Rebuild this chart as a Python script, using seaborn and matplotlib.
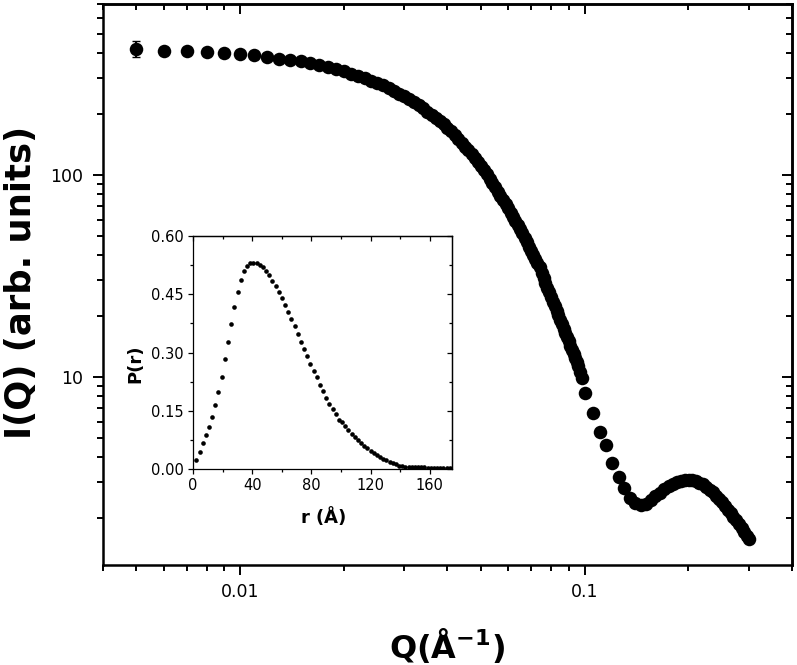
import numpy as np
import matplotlib
matplotlib.use('Agg')
import matplotlib.pyplot as plt
import seaborn as sns
from matplotlib.ticker import LogLocator, NullFormatter, MultipleLocator

# Scattering curve, low-Q part (Q in 1/A, intensity in arb. units)
q_low = [0.005, 0.006, 0.007, 0.008, 0.009, 0.010, 0.011, 0.012, 0.013, 0.014,
         0.015, 0.016, 0.017, 0.018, 0.019, 0.020, 0.021, 0.022, 0.023, 0.024,
         0.025, 0.026, 0.027, 0.028, 0.029, 0.030, 0.031, 0.032, 0.033, 0.034,
         0.035, 0.036, 0.037, 0.038, 0.039, 0.040, 0.041, 0.042, 0.043, 0.044,
         0.045, 0.046, 0.047, 0.048, 0.049, 0.050, 0.051, 0.052, 0.053, 0.054,
         0.055, 0.056, 0.057, 0.058, 0.059, 0.060, 0.061, 0.062, 0.063, 0.064,
         0.065, 0.066, 0.067, 0.068, 0.069, 0.070, 0.071, 0.072, 0.073, 0.074,
         0.075, 0.076, 0.077, 0.078, 0.079, 0.080, 0.081, 0.082, 0.083, 0.084,
         0.085, 0.086, 0.087, 0.088, 0.089, 0.090, 0.091, 0.092, 0.093, 0.094,
         0.095, 0.096, 0.097, 0.098]
i_low = [419, 411, 410, 405, 400, 396, 390, 383, 376, 370,
         364, 357, 348, 340, 332, 325, 316, 308, 300, 292,
         285, 277, 268, 260, 252, 244, 237, 230, 221, 213,
         205, 198, 191, 184, 178, 171, 164.5, 157, 150, 143.5,
         137.5, 132, 126.5, 121, 115.5, 110, 105, 100.4, 95.5, 91,
         86.5, 82.4, 78.6, 75, 71.7, 68.1, 64.8, 61.7, 58.8, 56.1,
         53.6, 51.2, 48.6, 46.2, 44.0, 41.9, 39.9, 38.1, 36.4, 34.8,
         32.7, 30.9, 29.2, 27.6, 26.2, 24.8, 23.5, 22.3, 21.2, 20.1,
         19.1, 18.2, 17.3, 16.5, 15.7, 14.95, 14.25, 13.6, 12.97, 12.38,
         11.82, 11.3, 10.6, 9.9]

# Scattering curve, high-Q part
q_high = [0.1005, 0.1055, 0.1105, 0.1155, 0.1205, 0.1255, 0.1305, 0.1355, 0.1405, 0.1455,
          0.1505, 0.1555, 0.1605, 0.1655, 0.1705, 0.1755, 0.1805, 0.1855, 0.1905, 0.1955,
          0.2005, 0.2055, 0.2105, 0.2155, 0.2205, 0.2255, 0.2305, 0.2355, 0.2405, 0.2455,
          0.2505, 0.2555, 0.2605, 0.2655, 0.2705, 0.2755, 0.2805, 0.2855, 0.2905, 0.2955,
          0.3005]
i_high = [8.3, 6.6, 5.3, 4.6, 3.75, 3.2, 2.8, 2.52, 2.37, 2.32,
          2.35, 2.44, 2.56, 2.66, 2.79, 2.89, 2.96, 3.02, 3.06, 3.08,
          3.09, 3.07, 3.03, 2.99, 2.93, 2.84, 2.76, 2.68, 2.58, 2.49,
          2.40, 2.30, 2.20, 2.11, 2.03, 1.95, 1.86, 1.78, 1.70, 1.63,
          1.57]

# Error of the first point
first_err = 38

# Pair distance distribution (inset)
r_vals = [2.2, 4.4, 6.5, 8.7, 10.8, 12.9, 15.1, 17.2, 19.4, 21.5,
          23.7, 25.8, 27.9, 30.1, 32.2, 34.4, 36.5, 38.6, 40.8, 42.9,
          45.1, 47.2, 49.3, 51.5, 53.6, 55.8, 57.9, 60.0, 62.2, 64.3,
          66.5, 68.6, 70.7, 72.9, 75.0, 77.2, 79.3, 81.4, 83.6, 85.7,
          87.9, 90.0, 92.1, 94.3, 96.4, 98.6, 100.7, 102.8, 105.0, 107.1,
          109.3, 111.4, 113.5, 115.7, 117.8, 120.0, 122.1, 124.2, 126.4, 128.5,
          130.7, 132.8, 134.9, 137.1, 139.2, 141.4, 143.5, 145.6, 147.8, 149.9,
          152.1, 154.2, 156.3, 158.5, 160.6, 162.8, 164.9, 167.0, 169.2, 171.3,
          173.5]
p_vals = [0.024, 0.045, 0.066, 0.087, 0.108, 0.134, 0.164, 0.198, 0.238, 0.283,
          0.328, 0.374, 0.417, 0.455, 0.487, 0.510, 0.523, 0.530, 0.531, 0.530,
          0.525, 0.519, 0.511, 0.500, 0.485, 0.471, 0.457, 0.440, 0.423, 0.405,
          0.387, 0.368, 0.348, 0.328, 0.309, 0.290, 0.271, 0.253, 0.236, 0.217,
          0.200, 0.183, 0.167, 0.154, 0.141, 0.127, 0.120, 0.110, 0.100, 0.091,
          0.082, 0.074, 0.066, 0.059, 0.053, 0.047, 0.041, 0.036, 0.031, 0.027,
          0.023, 0.019, 0.015, 0.012, 0.009, 0.007, 0.0055, 0.005, 0.0048, 0.0046,
          0.0044, 0.0042, 0.0040, 0.0037, 0.0033, 0.0030, 0.0027, 0.0025, 0.0023, 0.0021,
          0.0020]

# Tick labels
q_ticks = [0.01, 0.1]
q_ticklabels = ['0.01', '0.1']
i_ticks = [10, 100]
i_ticklabels = ['10', '100']
r_ticks = [0, 40, 80, 120, 160]
p_ticks = [0.0, 0.15, 0.30, 0.45, 0.60]
p_ticklabels = ['0.00', '0.15', '0.30', '0.45', '0.60']

sns.set_style('ticks', {'axes.edgecolor': 'black', 'xtick.color': 'black', 'ytick.color': 'black',
                        'text.color': 'black', 'axes.labelcolor': 'black'})
plt.rcParams['font.family'] = ['DejaVu Sans']
plt.rcParams['axes.linewidth'] = 1.8

fig = plt.figure(figsize=(7.97, 6.65), dpi=100, facecolor='w')

# Main plot
ax = fig.add_axes([0.1292, 0.1504, 0.8645, 0.8436])
ax.set_xscale('log')
ax.set_yscale('log')
sns.scatterplot(x=q_low + q_high, y=i_low + i_high, ax=ax, color='black', s=95, linewidth=0, zorder=3)
ax.errorbar(q_low[0], i_low[0], yerr=first_err, fmt='none', ecolor='black', elinewidth=1.5, capsize=3, zorder=2)
ax.set_xlim(0.004, 0.4)
ax.set_ylim(1.17, 700)
ax.set_xticks(q_ticks)
ax.set_xticklabels(q_ticklabels)
ax.set_yticks(i_ticks)
ax.set_yticklabels(i_ticklabels)
ax.xaxis.set_minor_locator(LogLocator(base=10, subs=np.arange(2, 10), numticks=20))
ax.yaxis.set_minor_locator(LogLocator(base=10, subs=np.arange(2, 10), numticks=20))
ax.xaxis.set_minor_formatter(NullFormatter())
ax.yaxis.set_minor_formatter(NullFormatter())
ax.tick_params(which='both', direction='out', top=False, right=False, width=1.4, labelsize=12.5)
ax.tick_params(which='major', length=7.5)
ax.tick_params(which='minor', length=4.3)
ax.tick_params(axis='y', pad=7)
ax.tick_params(axis='x', pad=5.5)

# Inner ticks on top and right
secx = ax.secondary_xaxis('top')
secx.set_xticks(q_ticks)
secx.xaxis.set_minor_locator(LogLocator(base=10, subs=np.arange(2, 10), numticks=20))
secx.xaxis.set_major_formatter(NullFormatter())
secx.xaxis.set_minor_formatter(NullFormatter())
secx.tick_params(which='both', direction='in', width=1.4)
secx.tick_params(which='major', length=7.5)
secx.tick_params(which='minor', length=4.3)
secy = ax.secondary_yaxis('right')
secy.set_yticks(i_ticks)
secy.yaxis.set_minor_locator(LogLocator(base=10, subs=np.arange(2, 10), numticks=20))
secy.yaxis.set_major_formatter(NullFormatter())
secy.yaxis.set_minor_formatter(NullFormatter())
secy.tick_params(which='both', direction='in', width=1.4)
secy.tick_params(which='major', length=7.5)
secy.tick_params(which='minor', length=4.3)

ax.set_xlabel(r'Q($\mathregular{\AA}^{\mathregular{-1}}$)', fontsize=23, fontweight='bold')
ax.set_ylabel('I(Q) (arb. units)', fontsize=25.5, fontweight='bold')
ax.xaxis.set_label_coords(0.5, -0.143)
ax.xaxis.label.set_va('center')
ax.yaxis.set_label_coords(-0.119, 0.503)
ax.yaxis.label.set_va('center')

# Inset with P(r)
axin = fig.add_axes([0.2422, 0.2947, 0.3250, 0.3504])
sns.scatterplot(x=r_vals, y=p_vals, ax=axin, color='black', s=11, linewidth=0, zorder=3)
axin.set_xlim(0, 175)
axin.set_ylim(0, 0.6)
axin.set_xticks(r_ticks)
axin.set_yticks(p_ticks)
axin.set_yticklabels(p_ticklabels)
axin.xaxis.set_minor_locator(MultipleLocator(20))
axin.yaxis.set_minor_locator(MultipleLocator(0.075))
for spine in axin.spines.values():
    spine.set_linewidth(0.9)
axin.tick_params(which='both', direction='out', top=False, right=False, width=0.9, labelsize=10.5, pad=3)
axin.tick_params(which='major', length=3.5)
axin.tick_params(which='minor', length=2)
sinx = axin.secondary_xaxis('top')
sinx.set_xticks(r_ticks)
sinx.xaxis.set_minor_locator(MultipleLocator(20))
sinx.xaxis.set_major_formatter(NullFormatter())
sinx.spines['top'].set_linewidth(0.9)
sinx.tick_params(which='both', direction='in', width=0.9)
sinx.tick_params(which='major', length=3.5)
sinx.tick_params(which='minor', length=2)
siny = axin.secondary_yaxis('right')
siny.set_yticks(p_ticks)
siny.yaxis.set_minor_locator(MultipleLocator(0.075))
siny.yaxis.set_major_formatter(NullFormatter())
siny.spines['right'].set_linewidth(0.9)
siny.tick_params(which='both', direction='in', width=0.9)
siny.tick_params(which='major', length=3.5)
siny.tick_params(which='minor', length=2)

axin.set_xlabel(r'r ($\mathregular{\AA}$)', fontsize=13, fontweight='bold')
axin.set_ylabel('P(r)', fontsize=13, fontweight='bold')
axin.xaxis.set_label_coords(0.50, -0.20)
axin.xaxis.label.set_va('center')
axin.yaxis.set_label_coords(-0.224, 0.45)
axin.yaxis.label.set_va('center')

plt.savefig('out.png', dpi=100)
